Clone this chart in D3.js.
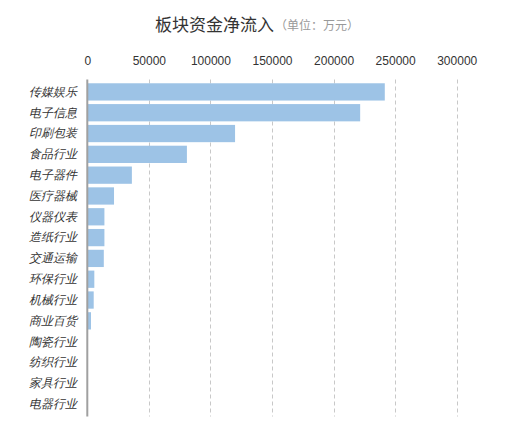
<!DOCTYPE html>
<html>
    <head>
        <meta charset="utf-8">
        <style>
            html, body {
                margin: 0px;
                padding: 0px;
                background-color: #fff;
                font-family: "Noto Sans CJK SC", sans-serif;
            }
            svg text {
                fill: #333;
            }
            .title {
                font-size: 17px;
            }
            .subtitle {
                font-size: 12px;
                fill: #999;
            }
            .topAxis text {
                font-size: 12px;
                fill: #333;
            }
            .topAxis .domain, .topAxis line {
                stroke: none;
            }
            .grid line {
                stroke: #c8c8c8;
                stroke-dasharray: 4 3;
            }
            .leftAxis .domain {
                stroke: #a0a0a0;
                stroke-width: 2px;
            }
            .leftAxis line {
                stroke: none;
            }
            .leftAxis text {
                font-size: 12px;
                font-style: italic;
                fill: #333;
            }
            .bar {
                fill: #9dc3e6;
            }
        </style>
        <script src="https://cdn.jsdelivr.net/npm/d3@7"></script>
    </head>
    <body>
        <div id="main"></div>

        <script>
            var categories = ["传媒娱乐", "电子信息", "印刷包装", "食品行业", "电子器件", "医疗器械", "仪器仪表", "造纸行业",
                              "交通运输", "环保行业", "机械行业", "商业百货", "陶瓷行业", "纺织行业", "家具行业", "电器行业"];
            var values = [241600, 221600, 120000, 80900, 36200, 21700, 13900, 13900,
                          13400, 5700, 5200, 3000, 0, 0, 0, 0];
            var ticks = [0, 50000, 100000, 150000, 200000, 250000, 300000];

            var width = 520;
            var height = 438;
            var plotLeft = 87.3;
            var plotRight = 456.7;
            var plotTop = 81.5;
            var plotBottom = 414.5;

            var svg = d3.select("#main")
                        .append("svg")
                        .attr("width", width)
                        .attr("height", height);

            var x = d3.scaleLinear().domain([0, 300000]).range([plotLeft, plotRight]);
            var y = d3.scaleBand().domain(categories).range([plotTop, plotBottom]).paddingInner(0.17).paddingOuter(0.085);

            // dashed vertical grid
            svg.append("g")
                .attr("class", "grid")
                .selectAll("line")
                .data(ticks.slice(1))
                .enter()
                .append("line")
                .attr("x1", function(d) { return Math.round(x(d)) + 0.5; })
                .attr("x2", function(d) { return Math.round(x(d)) + 0.5; })
                .attr("y1", plotTop - 2)
                .attr("y2", plotBottom + 2);

            svg.selectAll(".bar")
                .data(values)
                .enter()
                .append("rect")
                .attr("class", "bar")
                .attr("x", x(0))
                .attr("y", function(d, i) { return y(categories[i]); })
                .attr("width", function(d) { return x(d) - x(0); })
                .attr("height", y.bandwidth());

            svg.append("g")
                .attr("class", "topAxis")
                .attr("transform", "translate(0,68)")
                .call(d3.axisTop(x).tickValues(ticks).tickFormat(d3.format("d")).tickSize(0));

            var leftAxis = svg.append("g")
                .attr("class", "leftAxis")
                .attr("transform", "translate(" + plotLeft + ",0)")
                .call(d3.axisLeft(y).tickSize(0).tickPadding(10));
            leftAxis.select(".domain").attr("d", "M0," + (plotTop - 2) + "V" + (plotBottom + 2));

            svg.append("text")
                .attr("class", "title")
                .attr("x", 155)
                .attr("y", 31)
                .text("板块资金净流入");

            svg.append("text")
                .attr("class", "subtitle")
                .attr("x", 275)
                .attr("y", 30)
                .text("（单位：万元）");
        </script>
    </body>
</html>
